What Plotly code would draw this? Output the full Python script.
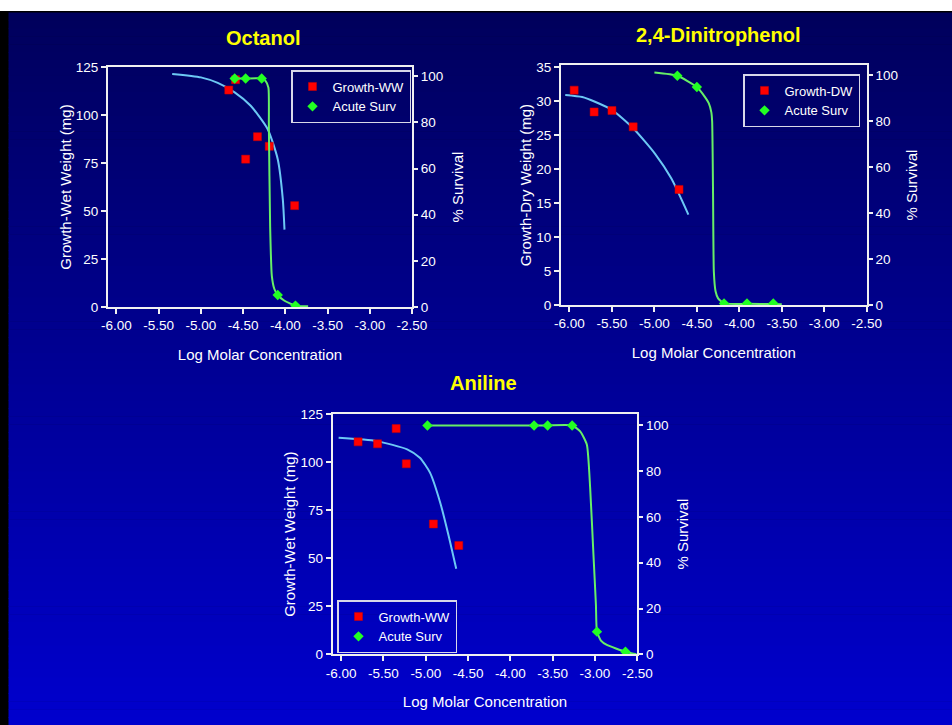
import plotly.graph_objects as go

# ---------------- data ----------------
x_tick_vals = [-6.0, -5.5, -5.0, -4.5, -4.0, -3.5, -3.0, -2.5]
x_tick_text = ["-6.00", "-5.50", "-5.00", "-4.50", "-4.00", "-3.50", "-3.00", "-2.50"]

# Octanol
oct_growth_x = [-4.67, -4.59, -4.47, -4.33, -4.19, -3.89]
oct_growth_y = [113.0, 118.4, 77.0, 88.7, 83.7, 52.8]
oct_growth_fit_x = [-5.34, -5.00, -4.80, -4.60, -4.41, -4.21, -4.09, -4.03, -4.01]
oct_growth_fit_y = [121.4, 119.6, 116.7, 111.8, 104.8, 92.7, 77.0, 56.2, 40.3]
oct_surv_x = [-4.60, -4.47, -4.28, -4.09, -3.88]
oct_surv_y = [99.0, 99.0, 99.0, 5.2, 0.6]
oct_surv_fit_x = [-4.60, -4.47, -4.28, -4.235, -4.20, -4.195, -4.18, -4.16, -4.13, -4.09, -4.01, -3.88, -3.73]
oct_surv_fit_y = [99.0, 99.0, 99.0, 98.0, 95.0, 78.5, 35.0, 13.5, 7.8, 5.2, 2.7, 0.6, 0.3]

# 2,4-Dinitrophenol
dnp_growth_x = [-5.945, -5.71, -5.50, -5.25, -4.71]
dnp_growth_y = [31.6, 28.4, 28.6, 26.2, 17.0]
dnp_growth_fit_x = [-6.05, -5.85, -5.70, -5.50, -5.25, -4.99, -4.80, -4.60]
dnp_growth_fit_y = [30.9, 30.6, 29.9, 28.7, 26.0, 22.2, 18.6, 13.3]
dnp_surv_x = [-4.73, -4.50, -4.18, -3.91, -3.60]
dnp_surv_y = [99.8, 94.9, 0.7, 0.7, 0.7]
dnp_surv_fit_x = [-5.00, -4.73, -4.50, -4.40, -4.36, -4.33, -4.32, -4.31, -4.30, -4.28, -4.25, -4.18, -3.91, -3.60, -3.50]
dnp_surv_fit_y = [101.2, 99.8, 94.9, 90.3, 87.9, 84.0, 79.9, 50.8, 14.5, 6.0, 2.9, 0.7, 0.5, 0.4, 0.3]

# Aniline
ani_growth_x = [-5.80, -5.57, -5.35, -5.23, -4.91, -4.61]
ani_growth_y = [110.5, 109.5, 117.4, 99.1, 67.8, 56.6]
ani_growth_fit_x = [-6.03, -5.58, -5.22, -5.07, -4.95, -4.83, -4.73, -4.64]
ani_growth_fit_y = [112.6, 110.9, 106.6, 102.2, 94.5, 79.0, 61.7, 44.5]
ani_surv_x = [-4.98, -3.72, -3.56, -3.27, -2.977, -2.64]
ani_surv_y = [100.0, 100.0, 100.0, 100.0, 9.9, 1.1]
ani_surv_fit_x = [-4.98, -3.72, -3.56, -3.27, -3.175, -3.096, -3.057, -3.018, -2.989, -2.977, -2.93, -2.86, -2.64, -2.51]
ani_surv_fit_y = [100.0, 100.0, 100.0, 100.0, 97.4, 91.6, 72.6, 43.4, 21.6, 9.9, 6.0, 4.1, 1.1, 0.0]

titles = ["Octanol", "2,4-Dinitrophenol", "Aniline"]

# ---------------- styling ----------------
W, H = 952, 725
FONT = "Liberation Sans, Arial, Helvetica, sans-serif"
RED = "#FF0000"
GREEN_M = "#22FF22"
GREEN_L = "#66EE66"
BLUE_L = "#6CC8F4"
AXC = "#F0F0F0"


def fx(p):
    return p / W


def fy(p):
    return 1 - p / H


fig = go.Figure()

panels = [
    dict(xa="x", ya="y", ya2="y2", leg="legend", gname="Growth-WW",
         gx=oct_growth_x, gy=oct_growth_y, fx_=oct_growth_fit_x, fy_=oct_growth_fit_y,
         sx=oct_surv_x, sy=oct_surv_y, sfx=oct_surv_fit_x, sfy=oct_surv_fit_y),
    dict(xa="x2", ya="y3", ya2="y4", leg="legend2", gname="Growth-DW",
         gx=dnp_growth_x, gy=dnp_growth_y, fx_=dnp_growth_fit_x, fy_=dnp_growth_fit_y,
         sx=dnp_surv_x, sy=dnp_surv_y, sfx=dnp_surv_fit_x, sfy=dnp_surv_fit_y),
    dict(xa="x3", ya="y5", ya2="y6", leg="legend3", gname="Growth-WW",
         gx=ani_growth_x, gy=ani_growth_y, fx_=ani_growth_fit_x, fy_=ani_growth_fit_y,
         sx=ani_surv_x, sy=ani_surv_y, sfx=ani_surv_fit_x, sfy=ani_surv_fit_y),
]

for p in panels:
    fig.add_trace(go.Scatter(x=p["fx_"], y=p["fy_"], mode="lines", xaxis=p["xa"], yaxis=p["ya"],
                             line=dict(color=BLUE_L, width=2, shape="spline", smoothing=0.6),
                             showlegend=False, hoverinfo="skip"))
    fig.add_trace(go.Scatter(x=p["sfx"], y=p["sfy"], mode="lines", xaxis=p["xa"], yaxis=p["ya2"],
                             line=dict(color=GREEN_L, width=2, shape="spline", smoothing=0.5),
                             showlegend=False, hoverinfo="skip"))
    fig.add_trace(go.Scatter(x=p["gx"], y=p["gy"], mode="markers", name=p["gname"],
                             xaxis=p["xa"], yaxis=p["ya"], legend=p["leg"],
                             marker=dict(symbol="square", size=8, color=RED,
                                         line=dict(color="#CC0000", width=0.5))))
    fig.add_trace(go.Scatter(x=p["sx"], y=p["sy"], mode="markers", name="Acute Surv",
                             xaxis=p["xa"], yaxis=p["ya2"], legend=p["leg"],
                             marker=dict(symbol="diamond", size=8, color=GREEN_M)))

tickfont = dict(family=FONT, size=13.5, color="white")
titlefont = dict(family=FONT, size=15, color="white")


def xaxis(dom, anchor):
    return dict(domain=dom, anchor=anchor, range=[-6.1, -2.5], tickvals=x_tick_vals,
                ticktext=x_tick_text, ticks="outside", ticklen=5, tickwidth=1.5, tickcolor=AXC,
                showline=True, linecolor=AXC, linewidth=2, mirror=True, showgrid=False,
                zeroline=False, tickfont=tickfont, automargin=False,
                title=dict(text="Log Molar Concentration", font=titlefont, standoff=17))


def yleft(dom, anchor, rng, dtick, title):
    return dict(domain=dom, anchor=anchor, range=rng, dtick=dtick, tick0=0, ticks="outside",
                ticklen=5, tickwidth=2, tickcolor=AXC, showline=True, linecolor=AXC, linewidth=2,
                showgrid=False, zeroline=False, tickfont=tickfont, automargin=False,
                title=dict(text=title, font=titlefont, standoff=1))


def yright(overlay, anchor, rng):
    return dict(overlaying=overlay, anchor=anchor, side="right", range=rng, dtick=20, tick0=0,
                ticks="outside", ticklen=4, tickwidth=2, tickcolor=AXC, showline=True,
                linecolor=AXC, linewidth=2, showgrid=False, zeroline=False, tickfont=tickfont,
                automargin=False,
                title=dict(text="% Survival", font=titlefont, standoff=10))


oct_xd = [fx(108), fx(412)]
oct_yd = [fy(307), fy(67)]
dnp_xd = [fx(561), fx(866.7)]
dnp_yd = [fy(305), fy(65)]
ani_xd = [fx(332.7), fx(637.3)]
ani_yd = [fy(654.3), fy(414)]

legend_common = dict(bgcolor="rgba(0,0,0,0)", bordercolor="#D8D8E8", borderwidth=1.5,
                     font=dict(family=FONT, size=13, color="white"), itemwidth=30,
                     xanchor="left", yanchor="top", tracegroupgap=0)

# background: white strip on top, black frame, navy->blue vertical gradient
shapes = [dict(type="rect", xref="paper", yref="paper", x0=0, x1=1, y0=0, y1=fy(11),
               fillcolor="#000000", line=dict(width=0), layer="below")]
N = 90
top_px, bot_px = 12.5, 725
c_top = (0, 0, 92)
c_bot = (0, 0, 205)
for i in range(N):
    t = i / (N - 1)
    y0p = top_px + (bot_px - top_px) * i / N
    y1p = top_px + (bot_px - top_px) * (i + 1) / N
    col = "rgb(%d,%d,%d)" % tuple(round(a + (b - a) * t) for a, b in zip(c_top, c_bot))
    shapes.append(dict(type="rect", xref="paper", yref="paper", x0=fx(8.5), x1=1,
                       y0=max(0, fy(y1p + 0.6)), y1=fy(y0p), fillcolor=col, line=dict(width=0),
                       layer="below"))

annotations = [
    dict(text="<b>%s</b>" % titles[0], x=fx(263), y=fy(38), xref="paper", yref="paper",
         xanchor="center", yanchor="middle", showarrow=False,
         font=dict(family=FONT, size=20, color="#FFFF00")),
    dict(text="<b>%s</b>" % titles[1], x=fx(718), y=fy(35), xref="paper", yref="paper",
         xanchor="center", yanchor="middle", showarrow=False,
         font=dict(family=FONT, size=20, color="#FFFF00")),
    dict(text="<b>%s</b>" % titles[2], x=fx(483), y=fy(383), xref="paper", yref="paper",
         xanchor="center", yanchor="middle", showarrow=False,
         font=dict(family=FONT, size=20, color="#FFFF00")),
]

fig.update_layout(
    template="none",
    width=W, height=H, margin=dict(l=0, r=0, t=0, b=0, pad=0, autoexpand=False),
    paper_bgcolor="white", plot_bgcolor="rgba(0,0,0,0)",
    font=dict(family=FONT, color="white"),
    xaxis=xaxis(oct_xd, "y"),
    yaxis=yleft(oct_yd, "x", [0, 125], 25, "Growth-Wet Weight (mg)"),
    yaxis2=yright("y", "x", [0, 104]),
    xaxis2=xaxis(dnp_xd, "y3"),
    yaxis3=yleft(dnp_yd, "x2", [0, 35.3], 5, "Growth-Dry Weight (mg)"),
    yaxis4=yright("y3", "x2", [0, 104.5]),
    xaxis3=xaxis(ani_xd, "y5"),
    yaxis5=yleft(ani_yd, "x3", [0, 125], 25, "Growth-Wet Weight (mg)"),
    yaxis6=yright("y5", "x3", [0, 105]),
    legend=dict(x=fx(291), y=fy(70), **legend_common),
    legend2=dict(x=fx(743), y=fy(74), **legend_common),
    legend3=dict(x=fx(337), y=fy(600), **legend_common),
    shapes=shapes,
    annotations=annotations,
    showlegend=True,
)

fig.write_html("out.html", config={"displayModeBar": False},
               post_script="document.body.style.margin='0px';document.body.style.overflow='hidden';")
